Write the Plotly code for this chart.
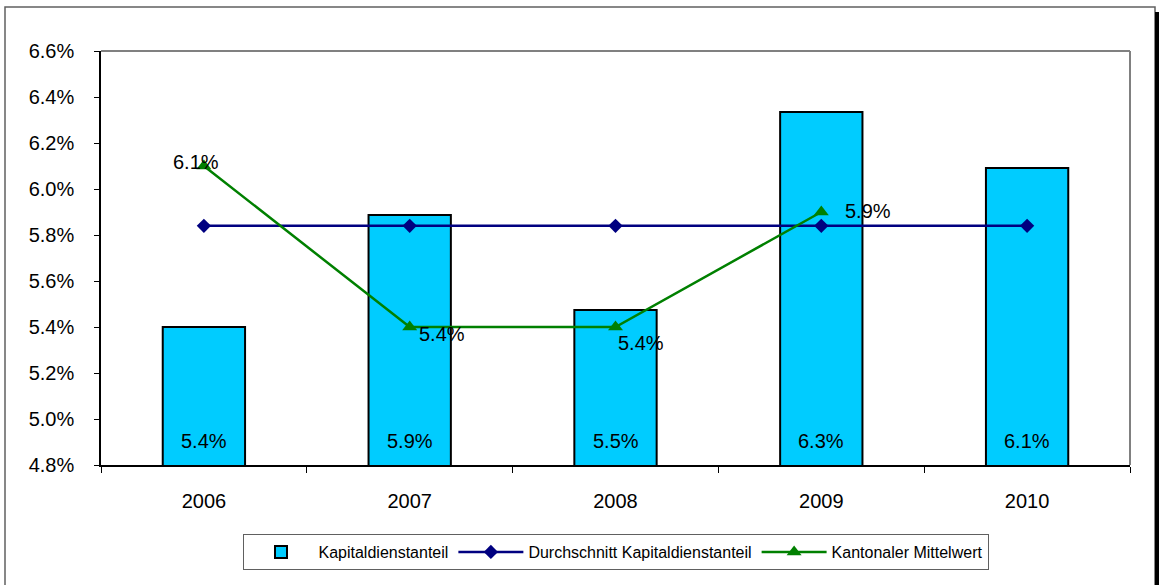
import plotly.graph_objects as go

years = ["2006", "2007", "2008", "2009", "2010"]
kapital = [5.40, 5.887, 5.474, 6.335, 6.091]
kapital_labels = ["5.4%", "5.9%", "5.5%", "6.3%", "6.1%"]
durchschnitt = [5.84, 5.84, 5.84, 5.84, 5.84]
kantonal = [6.10, 5.40, 5.40, 5.90, None]
kantonal_labels = ["6.1%", "5.4%", "5.4%", "5.9%", None]
y_min, y_max = 4.8, 6.6

W, H = 1159, 585
L, R, T, B = 101, 1130, 51, 465

fig = go.Figure()
fig.add_trace(go.Bar(
    x=years, y=kapital, name="Kapitaldienstanteil",
    marker=dict(color="#00CCFF", line=dict(color="#000000", width=2)),
    width=0.4,
))
fig.add_trace(go.Scatter(
    x=years, y=durchschnitt, name="Durchschnitt Kapitaldienstanteil",
    mode="lines+markers", line=dict(color="#000080", width=2.5),
    marker=dict(symbol="diamond", size=11, color="#000080"),
))
fig.add_trace(go.Scatter(
    x=years, y=kantonal, name="Kantonaler Mittelwert",
    mode="lines+markers", line=dict(color="#008000", width=2.5),
    marker=dict(symbol="triangle-up", size=13, color="#008000"),
))

font = "Liberation Sans, Arial, sans-serif"
ann = []
for i, lab in enumerate(kapital_labels):
    ann.append(dict(x=i, y=y_min, text=lab, showarrow=False, yshift=24,
                    xanchor="center", yanchor="middle",
                    font=dict(family=font, size=20, color="#000")))
shifts = [(-8, 4), (32, -7), (25, -16), (47, 1), (0, 0)]
for i, (v, lab, (dx, dy)) in enumerate(zip(kantonal, kantonal_labels, shifts)):
    if v is None:
        continue
    ann.append(dict(x=i, y=v, text=lab, showarrow=False, xshift=dx, yshift=dy,
                    xanchor="center", yanchor="middle",
                    font=dict(family=font, size=20, color="#000")))

def px(xp):
    return (xp - L) / (R - L)

def py(yp):
    return (B - yp) / (B - T)

shapes = [
    dict(type="rect", xref="paper", yref="paper", x0=px(5), x1=px(1155), y0=py(600), y1=py(7),
         line=dict(color="#606060", width=1.5), layer="below"),
    dict(type="rect", xref="paper", yref="paper", x0=px(1155), x1=px(1160), y0=py(600), y1=py(12),
         line=dict(width=0), fillcolor="#000000"),
    dict(type="line", xref="paper", yref="paper", x0=0, x1=1, y0=1, y1=1,
         line=dict(color="#808080", width=2)),
    dict(type="line", xref="paper", yref="paper", x0=1, x1=1, y0=0, y1=1,
         line=dict(color="#808080", width=2)),
]

fig.update_layout(
    width=W, height=H,
    margin=dict(l=L, r=W - R, t=T, b=H - B, autoexpand=False),
    paper_bgcolor="white", plot_bgcolor="white",
    font=dict(family=font, size=20, color="#000"),
    showlegend=True,
    legend=dict(orientation="h", x=0.5, xanchor="center", y=py(552), yanchor="middle",
                bordercolor="#606060", borderwidth=1,
                font=dict(family="Liberation Sans Narrow, Arial Narrow, sans-serif", size=16),
                itemwidth=65, traceorder="normal", tracegroupgap=0),
    annotations=ann,
    shapes=shapes,
)
fig.update_xaxes(
    type="category", range=[-0.5, 4.5], showline=True, linecolor="#000", linewidth=1.5,
    ticks="outside", tickson="boundaries", ticklen=6, tickcolor="#000",
    ticklabelstandoff=17, tickangle=0, showgrid=False, zeroline=False,
    tickfont=dict(size=20),
)
fig.update_yaxes(
    range=[y_min, y_max], dtick=0.2, tick0=y_min, tickformat=".1f", ticksuffix="%",
    showline=True, linecolor="#000", linewidth=1.5,
    ticks="outside", ticklen=5, tickcolor="#000", ticklabelstandoff=16,
    showgrid=False, zeroline=False, tickfont=dict(size=20),
)

fig.write_html("out.html")
